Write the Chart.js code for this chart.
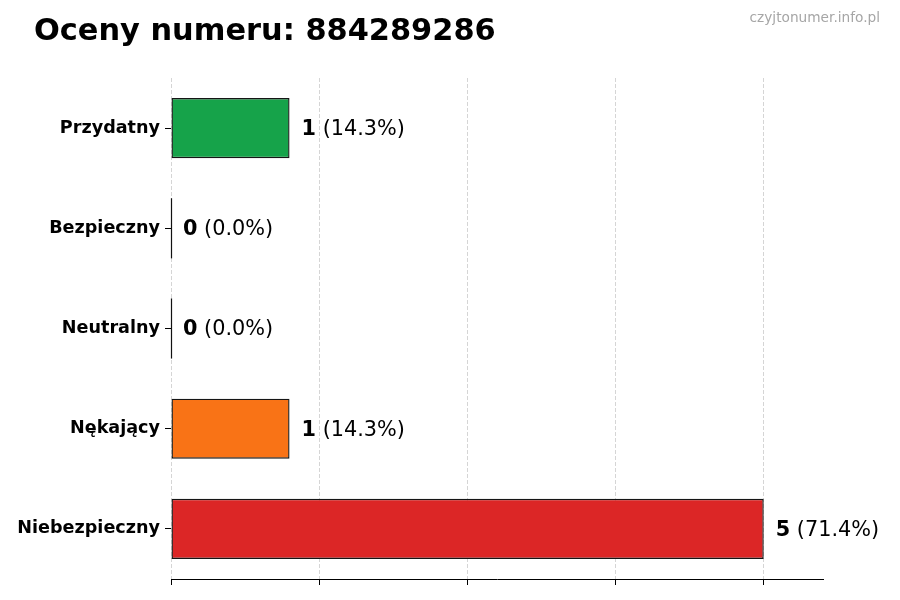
<!DOCTYPE html>
<html lang="pl">
<head>
  <meta charset="UTF-8" />
  <title>Oceny numeru: 884289286</title>
  <script src="https://cdn.jsdelivr.net/npm/chart.js"></script>
</head>
<body style="margin: 0; padding: 0; background: #fff;">

  <div style="width: 900px; height: 600px;">
    <canvas id="barChart" width="900" height="600"></canvas>
  </div>

  <script>
    const categories = ['Przydatny', 'Bezpieczny', 'Neutralny', 'Nękający', 'Niebezpieczny'];
    const counts = [1, 0, 0, 1, 5];
    const xTicks = [0, 1.25, 2.5, 3.75, 5];

    const barColors = ['#16a34a', '#3b82f6', '#9ca3af', '#f97316', '#dc2626'];
    const FONT = "'DejaVu Sans', sans-serif";
    const total = counts.reduce((a, b) => a + b, 0);

    // title, watermark, value labels and the edge of zero-width bars
    const overlay = {
      id: 'overlay',
      afterDraw(chart) {
        const ctx = chart.ctx;
        const meta = chart.getDatasetMeta(0);
        const xScale = chart.scales.x;
        ctx.save();

        ctx.fillStyle = '#000';
        ctx.font = 'bold 30.4px ' + FONT;
        ctx.textAlign = 'left';
        ctx.textBaseline = 'alphabetic';
        ctx.fillText('Oceny numeru: 884289286', 34, 40);

        ctx.fillStyle = '#a6a6a6';
        ctx.font = '13.7px ' + FONT;
        ctx.textAlign = 'right';
        ctx.fillText('czyjtonumer.info.pl', 880, 22);

        ctx.textAlign = 'left';
        ctx.textBaseline = 'middle';
        meta.data.forEach((bar, i) => {
          const v = counts[i];
          if (v === 0) {
            const half = bar.height / 2;
            ctx.strokeStyle = '#111';
            ctx.lineWidth = 1.2;
            ctx.beginPath();
            ctx.moveTo(xScale.getPixelForValue(0) + 0.5, bar.y - half);
            ctx.lineTo(xScale.getPixelForValue(0) + 0.5, bar.y + half);
            ctx.stroke();
          }
          const y = bar.y + 1.5;
          let x = bar.x + 12;
          ctx.fillStyle = '#000';
          ctx.font = 'bold 20.8px ' + FONT;
          const num = String(v);
          ctx.fillText(num, x, y);
          x += ctx.measureText(num).width;
          ctx.font = '20.8px ' + FONT;
          ctx.fillText(' (' + (v / total * 100).toFixed(1) + '%)', x, y);
        });
        ctx.restore();
      }
    };

    const ctx = document.getElementById('barChart').getContext('2d');
    new Chart(ctx, {
      type: 'bar',
      data: {
        labels: categories,
        datasets: [{
          data: counts,
          backgroundColor: barColors,
          borderColor: '#151515',
          borderWidth: 1.4,
          borderSkipped: false,
          categoryPercentage: 1,
          barPercentage: 0.6
        }]
      },
      options: {
        indexAxis: 'y',
        responsive: false,
        animation: false,
        layout: { padding: { top: 78, right: 77, bottom: 0, left: 0 } },
        plugins: {
          legend: { display: false },
          tooltip: { enabled: false },
          title: { display: false }
        },
        scales: {
          x: {
            min: 0,
            max: 5.5,
            z: 1,
            afterBuildTicks: scale => { scale.ticks = xTicks.map(v => ({ value: v })); },
            afterFit: scale => { scale.height = 21; },
            ticks: { display: false },
            grid: {
              color: 'rgba(185,185,185,0.6)',
              lineWidth: 1,
              drawTicks: true,
              tickLength: 6,
              tickColor: '#000',
              tickWidth: 1
            },
            border: { display: true, color: '#000', width: 1, dash: [4, 2] }
          },
          y: {
            afterFit: scale => { scale.width = 171; },
            ticks: {
              color: '#000',
              padding: 5,
              font: { family: FONT, size: 17.6, weight: 'bold' }
            },
            grid: {
              offset: false,
              drawOnChartArea: false,
              drawTicks: true,
              tickLength: 6,
              tickColor: '#000'
            },
            border: { display: false }
          }
        }
      },
      plugins: [overlay]
    });
  </script>
</body>
</html>
